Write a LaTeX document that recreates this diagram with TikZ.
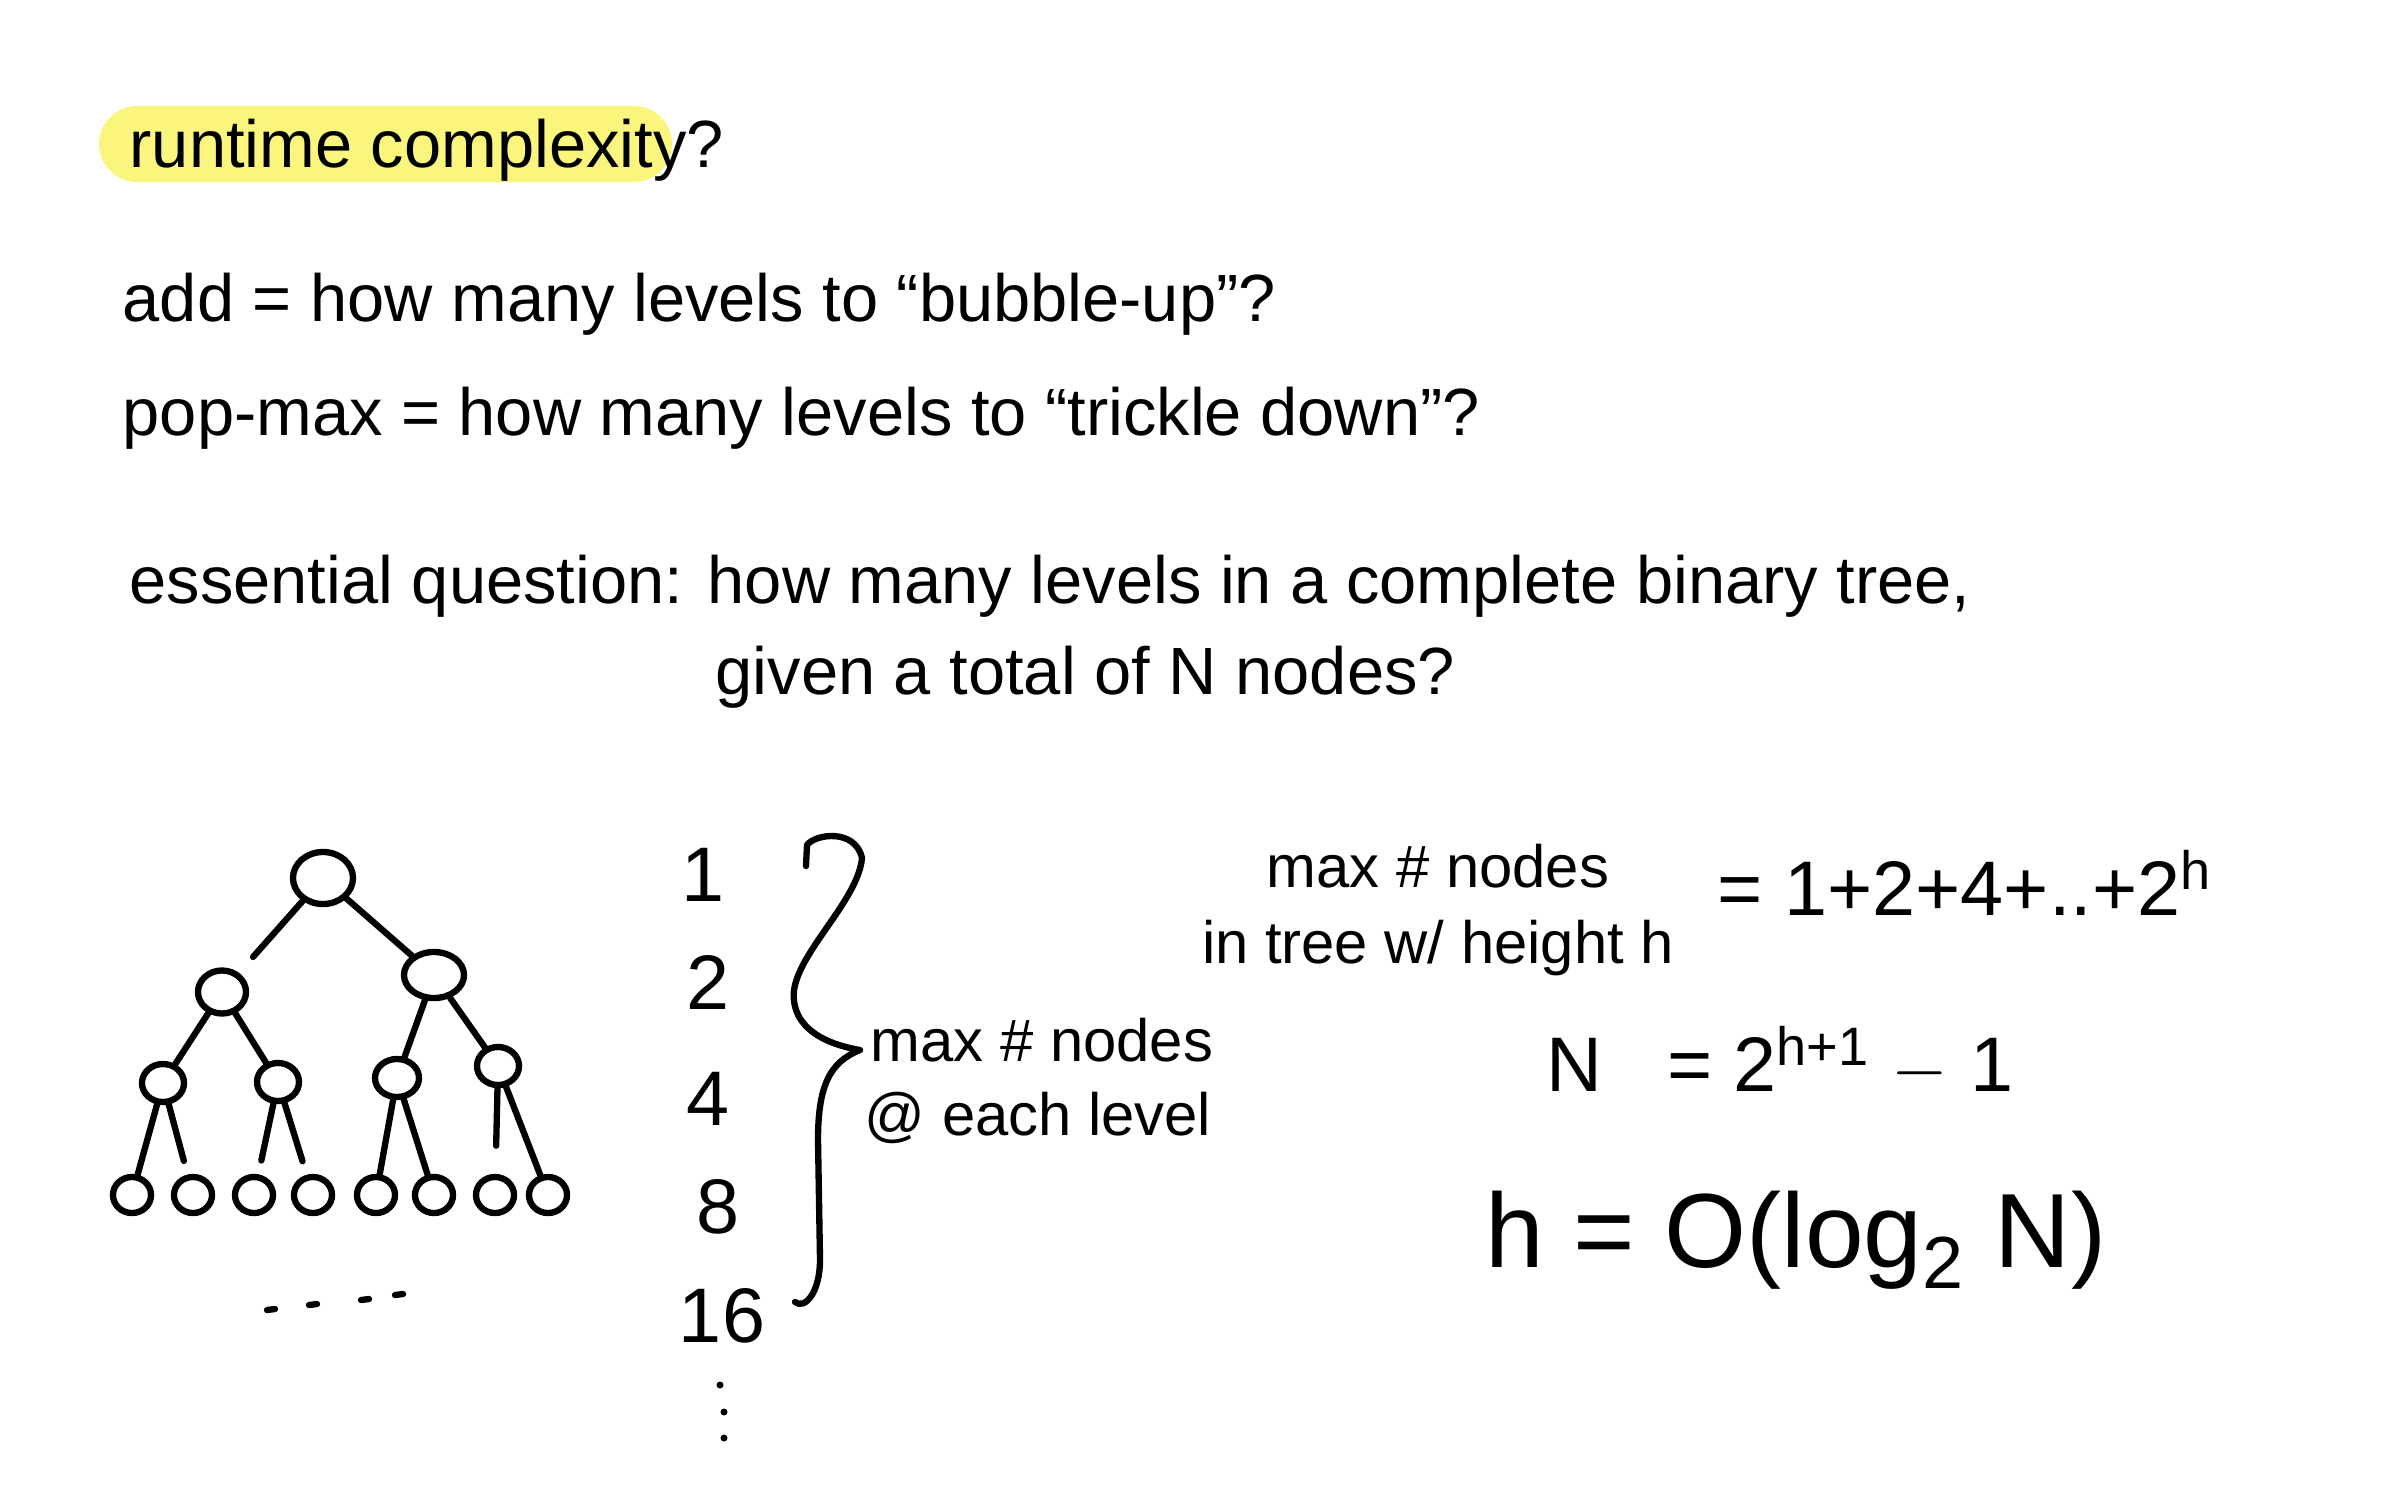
\documentclass[tikz,border=0pt]{standalone}
\usepackage{fontspec}
\setmainfont{Liberation Sans}
\usetikzlibrary{shapes.geometric}
\definecolor{hl}{RGB}{250,246,125}
\tikzset{
  ink/.style={line width=1.8pt, line cap=round, line join=round, black},
  txt/.style={inner sep=0pt, anchor=west, font=\fontsize{19}{22}\selectfont},
  tnode/.style={ellipse, draw, line width=1.8pt, inner sep=0pt},
  num/.style={inner sep=0pt, font=\fontsize{22}{24}\selectfont},
  lbl/.style={inner sep=0pt, font=\fontsize{17}{19}\selectfont},
  eq/.style={inner sep=0pt, font=\fontsize{22}{26}\selectfont},
}
\begin{document}
\begin{tikzpicture}[x=0.01cm, y=-0.01cm]
\useasboundingbox (0,0) rectangle (2386,1491);
% highlight
\fill[hl, rounded corners=0.38cm] (99,106) rectangle (672,182);
% text lines
\node[txt] (t0) at (129,150) {runtime complexity?};
\node[txt] (t1) at (122,304) {add = how many levels to “bubble-up”?};
\node[txt] (t2) at (122,418) {pop-max = how many levels to “trickle down”?};
\node[txt] (t3) at (129,586) {essential question: how many levels in a complete binary tree,};
\node[txt] (t4) at (715,677) {given a total of N nodes?};
% tree
\node[tnode, minimum width=0.60cm, minimum height=0.52cm] (r) at (323,878) {};
\node[tnode, minimum width=0.48cm, minimum height=0.43cm] (a) at (222,992) {};
\node[tnode, minimum width=0.60cm, minimum height=0.46cm] (b) at (434,975) {};
\node[tnode, minimum width=0.42cm, minimum height=0.38cm] (aa) at (163,1083) {};
\node[tnode, minimum width=0.42cm, minimum height=0.38cm] (ab) at (278,1082) {};
\node[tnode, minimum width=0.44cm, minimum height=0.38cm] (ba) at (397,1078) {};
\node[tnode, minimum width=0.42cm, minimum height=0.38cm] (bb) at (498,1066) {};
\foreach \i/\x in {1/132,2/193,3/254,4/313,5/376,6/434,7/495,8/548}{
  \node[tnode, minimum width=0.38cm, minimum height=0.36cm] (l\i) at (\x,1195) {};
}
\draw[ink, shorten >=6pt] (r) -- (a);
\draw[ink] (r) -- (b);
\draw[ink] (a) -- (aa);
\draw[ink] (a) -- (ab);
\draw[ink] (b) -- (ba);
\draw[ink] (b) -- (bb);
\draw[ink] (aa) -- (l1);
\draw[ink, shorten >=4pt] (aa) -- (l2);
\draw[ink, shorten >=4pt] (ab) -- (l3);
\draw[ink, shorten >=4pt] (ab) -- (l4);
\draw[ink] (ba) -- (l5);
\draw[ink] (ba) -- (l6);
\draw[ink, shorten >=8pt] (bb) -- (l7);
\draw[ink] (bb) -- (l8);
% dots under tree
\foreach \x/\y in {271/1310,313/1305,365/1300,399/1295}{
  \draw[ink] (\x-4,\y) -- (\x+4,\y-1);
}
% numbers
\node[num] (n1) at (703,875) {1};
\node[num] (n2) at (708,982) {2};
\node[num] (n4) at (708,1099) {4};
\node[num] (n8) at (718,1207) {8};
\node[num] (n16) at (722,1316) {16};
\fill (720,1385) circle (3.5);
\fill (724,1412) circle (3.5);
\fill (724,1438) circle (3.5);
% brace
\coordinate (bs) at (806,866);
\coordinate (tip) at (860,1050);
\coordinate (be) at (795,1302);
\draw[ink] (bs) -- (807,845) .. controls (815,834) and (855,828) .. (862,858)
  .. controls (858,900) and (800,950) .. (794,990)
  .. controls (790,1030) and (830,1045) .. (tip)
  .. controls (830,1062) and (818,1085) .. (818,1140)
  -- (820,1260) .. controls (820,1292) and (805,1310) .. (be);
% labels
\node[lbl, anchor=west] (m1) at (870,1040) {max \# nodes};
\node[lbl] (m2) at (1038,1118) {@ each level};
\node[lbl] (m3) at (1438,866) {max \# nodes};
\node[lbl] (m4) at (1438,948) {in tree w/ height h};
% equations
\node[eq] (e1) at (1965,883) {= 1+2+4+..+2\textsuperscript{h}};
\node[eq] (e2) at (1780,1062) {N \ \ = 2\textsuperscript{h+1} $-$ 1};
\node[inner sep=0pt, font=\fontsize{30}{34}\selectfont] (e3) at (1796,1240) {h = O(log\textsubscript{2} N)};
\end{tikzpicture}
\end{document}
